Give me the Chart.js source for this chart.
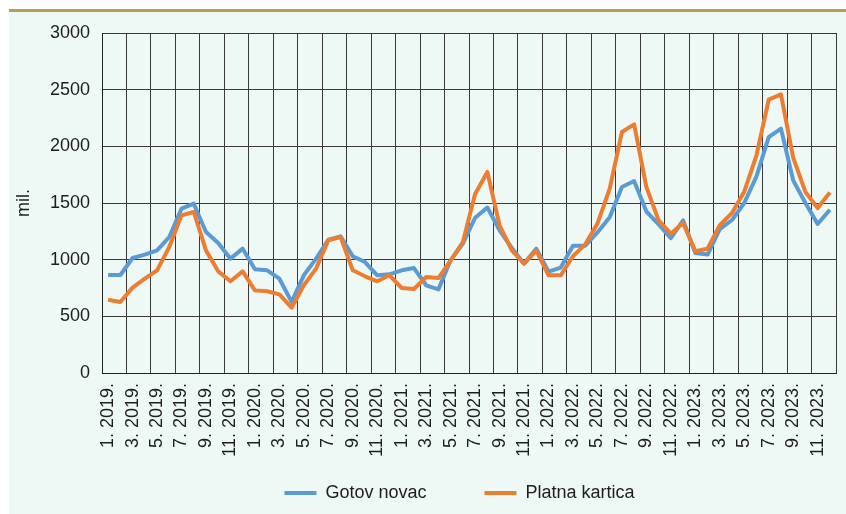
<!DOCTYPE html>
<html>
<head>
<meta charset="utf-8">
<script src="https://cdn.jsdelivr.net/npm/chart.js@4.4.1/dist/chart.umd.min.js"></script>
<style>
  body { margin: 0; background: #fff; }
  #panel {
    position: absolute; left: 9px; top: 9px;
    width: 837px; height: 502px;
    border-top: 3px solid #b99b60;
    background: #eef8f4;
  }
  canvas { display: block; }
</style>
</head>
<body>
<div id="panel"><canvas id="chart" width="837" height="502"></canvas></div>
<script>
// mjeseci 1/2019 - 12/2023
var years = [2019, 2020, 2021, 2022, 2023];
var months = [1, 2, 3, 4, 5, 6, 7, 8, 9, 10, 11, 12];

var gotovNovac = [
  865, 865, 1015, 1044, 1082, 1200, 1450, 1494, 1244, 1147, 1009, 1097,
  915, 906, 832, 627, 862, 1009, 1176, 1206, 1029, 979, 862, 871,
  906, 926, 774, 738, 994, 1141, 1370, 1460, 1259, 1103, 965, 1097,
  895, 930, 1123, 1123, 1240, 1374, 1641, 1694, 1425, 1312, 1190, 1347,
  1059, 1045, 1270, 1350, 1500, 1735, 2082, 2156, 1700, 1500, 1315, 1440
];
var platnaKartica = [
  647, 627, 753, 832, 906, 1112, 1391, 1421, 1082, 897, 809, 897,
  729, 721, 694, 576, 774, 921, 1171, 1200, 906, 853, 809, 862,
  750, 741, 847, 838, 994, 1156, 1580, 1774, 1303, 1082, 965, 1080,
  862, 862, 1030, 1135, 1318, 1626, 2126, 2194, 1641, 1347, 1229, 1324,
  1075, 1097, 1305, 1412, 1600, 1921, 2412, 2459, 1900, 1597, 1455, 1592
];
var yTicks = [0, 500, 1000, 1500, 2000, 2500, 3000];

var labels = [];
years.forEach(function (y) {
  months.forEach(function (m) { labels.push(m + ". " + y + "."); });
});

var gridColor = "#3a3a3a";
var textColor = "#1e1e1e";
Chart.defaults.font.family = "'Liberation Sans', Arial, sans-serif";
Chart.defaults.font.size = 18;
Chart.defaults.color = textColor;

// legenda centrirana ispod područja grafa; oznake osi x smiju ići ispod nje
var legendShift = {
  id: "legendShift",
  afterLayout: function (chart) {
    var lg = chart.legend;
    lg.left += 37;
    lg.right += 37;
    chart.scales.x.bottom = chart.height;
  }
};

var ctx = document.getElementById("chart");

var chart = new Chart(ctx, {
  type: "line",
  data: {
    labels: labels,
    datasets: [
      {
        label: "Gotov novac",
        data: gotovNovac,
        borderColor: "#5b9bd5",
        backgroundColor: "#5b9bd5",
        borderWidth: 4,
        pointRadius: 0,
        borderJoinStyle: "round",
        tension: 0,
        order: 1
      },
      {
        label: "Platna kartica",
        data: platnaKartica,
        borderColor: "#ed7d31",
        backgroundColor: "#ed7d31",
        borderWidth: 4,
        pointRadius: 0,
        borderJoinStyle: "round",
        tension: 0,
        order: 0
      }
    ]
  },
  plugins: [legendShift],
  options: {
    responsive: false,
    animation: false,
    layout: { padding: { top: 21, right: 10, left: 0, bottom: 2 } },
    plugins: {
      tooltip: { enabled: false },
      legend: {
        display: true,
        position: "bottom",
        labels: {
          usePointStyle: true,
          pointStyle: "line",
          pointStyleWidth: 32,
          boxHeight: 18,
          padding: 58,
          color: textColor,
          sort: function (a, b) { return a.datasetIndex - b.datasetIndex; }
        }
      }
    },
    scales: {
      x: {
        offset: true,
        grid: {
          offset: true,
          drawTicks: false,
          color: function (c) {
            return (c.index === undefined || c.index % 2 === 0) ? gridColor : "rgba(0,0,0,0)";
          }
        },
        border: { color: "#222", width: 1 },
        ticks: {
          autoSkip: false,
          minRotation: 90,
          maxRotation: 90,
          padding: 10,
          callback: function (value, index) {
            return index % 2 === 0 ? this.getLabelForValue(value) : "";
          }
        },
        afterFit: function (s) {
          s.height = 139 - s.chart.legend.height;
          s.paddingLeft = 0;
          s.paddingRight = 0;
        }
      },
      y: {
        min: 0,
        max: 3000,
        afterBuildTicks: function (s) {
          s.ticks = yTicks.map(function (v) { return { value: v }; });
        },
        grid: { drawTicks: false, color: gridColor },
        border: { color: "#222", width: 1 },
        ticks: {
          padding: 12,
          callback: function (value) { return String(value); }
        },
        title: { display: true, text: "mil.", color: textColor, font: { size: 18 } },
        afterFit: function (s) {
          s.width = 93;
          s.paddingTop = 0;
          s.paddingBottom = 0;
        }
      }
    }
  }
});
</script>
</body>
</html>
